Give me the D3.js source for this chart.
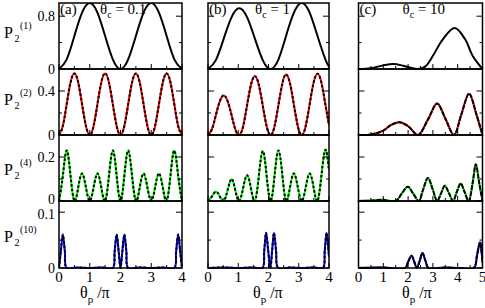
<!DOCTYPE html>
<html><head><meta charset="utf-8">
<script src="https://cdn.jsdelivr.net/npm/d3@7"></script>
<style>body{margin:0;background:#fff}svg{display:block}</style>
</head><body>
<svg id="chart" width="485" height="308"></svg>
<script>
// ---------- data ----------
const panelTags = ["(a)", "(b)", "(c)"];
const thetaC = ["0.1", "1", "10"];
const rowOrders = ["(1)", "(2)", "(4)", "(10)"];
const xTicksAB = [0, 1, 2, 3, 4];
const xTicksC = [0, 1, 2, 3, 4, 5];
const yMajor = [[0, 0.8], [0, 0.4], [0, 0.2], [0, 0.1]];
const yMinor = [[0.4], [0.2], [0.1], [0.05]];
const yTop = [1, 0.6, 0.3, 0.12];
const seriesColors = ["#000000", "#ff0000", "#00ff00", "#0000ff"];

// column (a) theta_c = 0.1
const a1x = [0,0.25,0.5,0.75,1,1.25,1.5,1.75,2,2.25,2.5,2.75,3,3.25,3.5,3.75,4];
const a1y = [0,0.146,0.5,0.854,1,0.854,0.5,0.146,0,0.146,0.5,0.854,1,0.854,0.5,0.146,0];
const a2x = [0,0.125,0.25,0.375,0.5,0.625,0.75,0.875,1,1.125,1.25,1.375,1.5,1.625,1.75,1.875,2,2.125,2.25,2.375,2.5,2.625,2.75,2.875,3,3.125,3.25,3.375,3.5,3.625,3.75,3.875,4];
const a2y = [0,0.082,0.28,0.478,0.56,0.478,0.28,0.082,0,0.082,0.28,0.478,0.56,0.478,0.28,0.082,0,0.082,0.28,0.478,0.56,0.478,0.28,0.082,0,0.082,0.28,0.478,0.56,0.478,0.28,0.082,0];
const a3x = [0,0.125,0.25,0.375,0.5,0.625,0.75,0.875,1,1.125,1.25,1.375,1.5,1.625,1.75,1.875,2,2.125,2.25,2.375,2.5,2.625,2.75,2.875,3,3.125,3.25,3.375,3.5,3.625,3.75,3.875,4];
const a3y = [0,0.115,0.23,0.115,0,0.062,0.125,0.062,0,0.062,0.125,0.062,0,0.115,0.23,0.115,0,0.115,0.23,0.115,0,0.062,0.125,0.062,0,0.062,0.125,0.062,0,0.115,0.23,0.115,0];
const a4x = [0,0.06,0.125,0.19,0.25,0.6,1.0,1.4,1.75,1.81,1.875,1.94,2,2.06,2.125,2.19,2.25,2.6,3.0,3.4,3.75,3.81,3.875,3.94,4];
const a4y = [0,0.03,0.06,0.03,0,0.001,0,0.001,0,0.03,0.06,0.03,0,0.03,0.06,0.03,0,0.001,0,0.001,0,0.03,0.06,0.03,0];

// column (b) theta_c = 1
const b1x = [0,0.26,0.52,0.78,1.03,1.29,1.55,1.81,2.07,2.33,2.58,2.84,3.1,3.36,3.62,3.88,4];
const b1y = [0,0.135,0.46,0.785,0.92,0.785,0.46,0.135,0,0.146,0.5,0.854,1,0.854,0.5,0.146,0.035];
const b2x = [0,0.13,0.26,0.39,0.52,0.65,0.78,0.9,1.03,1.16,1.29,1.42,1.55,1.68,1.81,1.94,2.07,2.2,2.33,2.46,2.58,2.71,2.84,2.97,3.1,3.23,3.36,3.49,3.62,3.75,3.88,4];
const b2y = [0,0.053,0.18,0.307,0.36,0.307,0.18,0.053,0,0.078,0.268,0.457,0.535,0.457,0.268,0.078,0,0.08,0.275,0.47,0.55,0.47,0.275,0.08,0,0.081,0.278,0.476,0.557,0.476,0.278,0.09];
const b3x = [0,0.13,0.26,0.39,0.52,0.65,0.78,0.9,1.03,1.16,1.29,1.42,1.55,1.68,1.81,1.94,2.07,2.2,2.33,2.46,2.58,2.71,2.84,2.97,3.1,3.23,3.36,3.49,3.62,3.75,3.88,4];
const b3y = [0,0.021,0.042,0.021,0,0.05,0.1,0.05,0,0.058,0.117,0.058,0,0.113,0.227,0.113,0,0.115,0.23,0.115,0,0.062,0.125,0.062,0,0.062,0.125,0.062,0,0.116,0.233,0.14];
const b4x = [0,0.5,1.0,1.5,1.8,1.86,1.92,1.99,2.06,2.12,2.18,2.25,2.32,2.7,3.1,3.5,3.8,3.86,3.92,3.97,4];
const b4y = [0,0.001,0,0.001,0,0.031,0.063,0.031,0,0.031,0.063,0.031,0,0.001,0,0.001,0,0.031,0.063,0.04,0.02];

// column (c) theta_c = 10
const c1x = [0,0.5,1.0,1.4,1.8,2.1,2.4,2.7,3.0,3.4,3.88,4.3,4.6,5];
const c1y = [0,0.012,0.055,0.075,0.05,0.02,0,0.04,0.2,0.45,0.62,0.45,0.2,0];
const c2x = [0,0.5,1.0,1.3,1.65,2.0,2.4,2.8,3.17,3.5,3.85,4.15,4.46,4.75,5];
const c2y = [0,0.005,0.04,0.09,0.115,0.08,0,0.14,0.286,0.15,0,0.19,0.376,0.19,0];
const c3x = [0,0.5,0.95,1.5,1.75,1.99,2.2,2.43,2.6,2.8,3.0,3.17,3.33,3.48,3.65,3.81,3.96,4.12,4.28,4.44,4.6,4.73,4.87,5];
const c3y = [0,0.002,0.006,0,0.035,0.065,0.035,0,0.05,0.105,0.05,0,0.035,0.069,0.035,0,0.04,0.08,0.04,0,0.08,0.167,0.08,0];
const c4x = [0,1.0,1.88,2.0,2.14,2.25,2.35,2.47,2.58,2.7,2.82,3.5,4.0,4.65,4.78,4.9,4.96,5];
const c4y = [0,0.001,0,0.011,0.022,0.011,0,0.013,0.027,0.013,0,0.001,0,0,0.023,0.046,0.03,0.01];

const panelData = [
  [[a1x,a1y],[b1x,b1y],[c1x,c1y]],
  [[a2x,a2y],[b2x,b2y],[c2x,c2y]],
  [[a3x,a3y],[b3x,b3y],[c3x,c3y]],
  [[a4x,a4y],[b4x,b4y],[c4x,c4y]]
];

// ---------- layout ----------
const cols = [{x0:59, x1:182, max:4}, {x0:208, x1:329, max:4}, {x0:358.5, x1:482.5, max:5}];
const rows = [{y0:3, y1:69}, {y0:69, y1:135}, {y0:135, y1:201}, {y0:201, y1:268}];
const FONT = "'Liberation Serif','Times New Roman',Times,serif";
const svg = d3.select("#chart");

cols.forEach((col, ci) => {
  const x = d3.scaleLinear().domain([0, col.max]).range([col.x0, col.x1]);
  const xt = col.max === 5 ? xTicksC : xTicksAB;
  const xMinor = d3.range(0.5, col.max, 1);
  rows.forEach((row, ri) => {
    const y = d3.scaleLinear().domain([0, yTop[ri]]).range([row.y1, row.y0]);
    const g = svg.append("g");
    const [xs, ys] = panelData[ri][ci];
    const pts = xs.map((v, i) => [v, ys[i]]);
    const curve = (ri === 3 || ci === 2) ? d3.curveCatmullRom.alpha(0.5) : d3.curveNatural;
    const line = d3.line().x(d => x(d[0])).y(d => y(Math.max(0, d[1]))).curve(curve);
    g.append("defs").append("clipPath").attr("id", `cp${ri}${ci}`)
      .append("rect").attr("x", col.x0).attr("y", row.y0).attr("width", col.x1 - col.x0).attr("height", row.y1 - row.y0 + 1);
    const lg = g.append("g").attr("clip-path", `url(#cp${ri}${ci})`);
    if (ri === 0) {
      lg.append("path").datum(pts).attr("d", line).attr("fill", "none").attr("stroke", "#000").attr("stroke-width", 2);
    } else {
      lg.append("path").datum(pts).attr("d", line).attr("fill", "none").attr("stroke", seriesColors[ri]).attr("stroke-width", 2);
      lg.append("path").datum(pts).attr("d", line).attr("fill", "none").attr("stroke", "#000").attr("stroke-width", 2)
        .attr("stroke-dasharray", ci === 2 ? "5,1" : "2.5,2");
    }
    // ticks: x (bottom, inward)
    const tickG = g.append("g").attr("stroke", "#000").attr("stroke-width", 1);
    xt.forEach(t => tickG.append("line").attr("x1", x(t)).attr("x2", x(t)).attr("y1", row.y1).attr("y2", row.y1 - 5));
    xMinor.forEach(t => tickG.append("line").attr("x1", x(t)).attr("x2", x(t)).attr("y1", row.y1).attr("y2", row.y1 - 3));
    // y ticks left and right, inward
    yMajor[ri].forEach(t => {
      tickG.append("line").attr("x1", col.x0).attr("x2", col.x0 + 6).attr("y1", y(t)).attr("y2", y(t));
      tickG.append("line").attr("x1", col.x1).attr("x2", col.x1 - 6).attr("y1", y(t)).attr("y2", y(t));
    });
    yMinor[ri].forEach(t => {
      tickG.append("line").attr("x1", col.x0).attr("x2", col.x0 + 3).attr("y1", y(t)).attr("y2", y(t));
      tickG.append("line").attr("x1", col.x1).attr("x2", col.x1 - 3).attr("y1", y(t)).attr("y2", y(t));
    });
    // frame
    g.append("rect").attr("x", col.x0).attr("y", row.y0).attr("width", col.x1 - col.x0).attr("height", row.y1 - row.y0)
      .attr("fill", "none").attr("stroke", "#000").attr("stroke-width", 1.5);
    // y tick labels (column a only)
    if (ci === 0) {
      yMajor[ri].forEach(t => {
        let yy = y(t) + 5;
        if (ri === 2 && t === 0) yy = y(t) + 2.5;
        if (ri === 3 && t !== 0) yy = y(t) + 7;
        g.append("text").attr("x", col.x0 - 4).attr("y", yy).attr("text-anchor", "end")
          .attr("font-family", FONT).attr("font-size", 14).text(String(t));
      });
    }
    // x tick labels (last row only)
    if (ri === 3) {
      xt.forEach(t => {
        g.append("text").attr("x", x(t)).attr("y", 282).attr("text-anchor", "middle")
          .attr("font-family", FONT).attr("font-size", 15).text(String(t));
      });
    }
  });
  // panel tag and theta_c
  svg.append("text").attr("x", col.x0 + 1).attr("y", 14).attr("font-family", FONT).attr("font-size", 15).text(panelTags[ci]);
  const tc = svg.append("text").attr("x", col.x0 + (ci === 0 ? 41 : (ci === 1 ? 47 : 44))).attr("y", 14)
    .attr("font-family", FONT).attr("font-size", 15);
  tc.append("tspan").text("θ");
  tc.append("tspan").attr("font-size", 10).attr("dy", 4).text("c");
  tc.append("tspan").attr("dy", -4).text(" = " + thetaC[ci]);
  // x axis title
  const xl = svg.append("text").attr("x", ci === 0 ? 80 : (ci === 1 ? 253 : 402)).attr("y", 298)
    .attr("font-family", FONT).attr("font-size", 16);
  xl.append("tspan").text("θ");
  xl.append("tspan").attr("font-size", 11).attr("dy", 5).text("p");
  xl.append("tspan").attr("dy", -5).text(" /π");
});

// y axis titles
const yBase = [38, 105, 175, 242];
rowOrders.forEach((o, ri) => {
  svg.append("text").attr("x", 4).attr("y", yBase[ri]).attr("font-family", FONT).attr("font-size", 16).text("P");
  svg.append("text").attr("x", 14.5).attr("y", yBase[ri] + 4).attr("font-family", FONT).attr("font-size", 10).text("2");
  svg.append("text").attr("x", 20).attr("y", yBase[ri] - 9).attr("font-family", FONT).attr("font-size", 10).text(o);
});
</script>
</body></html>
